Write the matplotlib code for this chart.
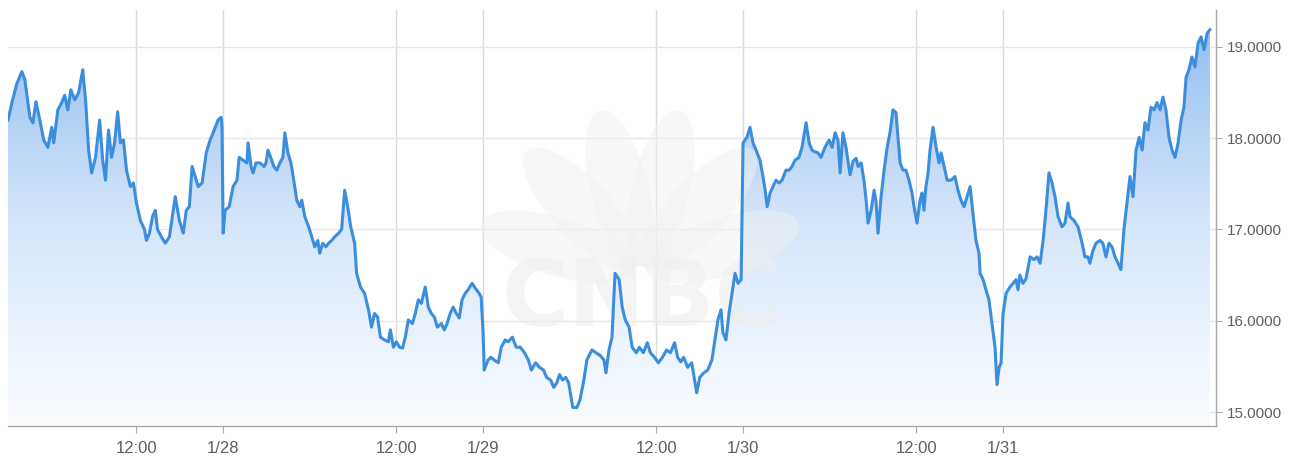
import numpy as np
import matplotlib
matplotlib.use("Agg")
import matplotlib.pyplot as plt
from matplotlib.colors import LinearSegmentedColormap
from matplotlib.patches import Ellipse
from matplotlib.transforms import IdentityTransform

# Session hours since 1/27 04:00 (12-hour sessions, 04:00-16:00 per day)
hours = [
    2.07, 2.25, 2.48, 2.71, 2.85, 3.08, 3.22, 3.36, 3.54, 3.72, 3.91, 4.09, 4.18, 4.37, 4.55,
    4.69, 4.83, 4.97, 5.15, 5.33, 5.52, 5.66, 5.79, 5.93, 6.11, 6.30, 6.44, 6.57, 6.71, 6.85,
    6.99, 7.13, 7.26, 7.40, 7.54, 7.72, 7.86, 8.00, 8.18, 8.37, 8.46, 8.60, 8.74, 8.87, 8.97,
    9.15, 9.33, 9.52, 9.79, 9.98, 10.16, 10.30, 10.44, 10.57, 10.71, 10.85, 11.03, 11.22, 11.40,
    11.59, 11.77, 11.91, 11.95, 12.00, 12.09, 12.28, 12.46, 12.64, 12.74, 12.92, 13.10, 13.15,
    13.29, 13.38, 13.52, 13.70, 13.89, 13.98, 14.07, 14.21, 14.34, 14.48, 14.62, 14.76, 14.85,
    14.99, 15.13, 15.26, 15.40, 15.54, 15.63, 15.77, 15.95, 16.14, 16.23, 16.37, 16.46, 16.60,
    16.74, 16.87, 17.01, 17.15, 17.33, 17.47, 17.61, 17.75, 17.89, 18.07, 18.16, 18.34, 18.53,
    18.71, 18.85, 18.99, 19.13, 19.26, 19.45, 19.63, 19.72, 19.86, 20.00, 20.14, 20.28, 20.41,
    20.55, 20.74, 20.87, 21.01, 21.15, 21.33, 21.47, 21.61, 21.75, 21.89, 22.07, 22.21, 22.34,
    22.48, 22.62, 22.76, 22.90, 23.03, 23.17, 23.31, 23.49, 23.63, 23.82, 23.91, 24.00, 24.05,
    24.23, 24.37, 24.51, 24.70, 24.84, 25.02, 25.16, 25.35, 25.53, 25.72, 25.91, 26.09, 26.23,
    26.42, 26.60, 26.79, 26.93, 27.12, 27.26, 27.40, 27.53, 27.67, 27.81, 27.95, 28.14, 28.33,
    28.47, 28.65, 28.79, 29.02, 29.21, 29.40, 29.58, 29.67, 29.81, 29.95, 30.09, 30.28, 30.42,
    30.56, 30.74, 30.88, 31.07, 31.21, 31.40, 31.58, 31.72, 31.91, 32.09, 32.28, 32.47, 32.65,
    32.84, 32.98, 33.12, 33.26, 33.44, 33.63, 33.86, 34.00, 34.19, 34.37, 34.56, 34.70, 34.84,
    34.98, 35.07, 35.21, 35.35, 35.49, 35.63, 35.77, 35.91, 36.00, 36.18, 36.32, 36.46, 36.60,
    36.78, 36.92, 37.02, 37.11, 37.25, 37.38, 37.52, 37.66, 37.80, 37.98, 38.12, 38.26, 38.40,
    38.58, 38.72, 38.91, 39.05, 39.18, 39.32, 39.46, 39.60, 39.78, 39.97, 40.11, 40.25, 40.38,
    40.48, 40.61, 40.75, 40.94, 41.08, 41.22, 41.31, 41.45, 41.58, 41.68, 41.77, 41.91, 42.05,
    42.14, 42.23, 42.37, 42.51, 42.65, 42.78, 42.92, 43.06, 43.15, 43.25, 43.38, 43.52, 43.66,
    43.80, 43.89, 44.03, 44.17, 44.26, 44.35, 44.44, 44.54, 44.63, 44.77, 44.91, 45.05, 45.14,
    45.28, 45.42, 45.60, 45.78, 45.92, 46.06, 46.20, 46.34, 46.48, 46.61, 46.75, 46.89, 46.94,
    47.08, 47.21, 47.35, 47.49, 47.63, 47.72, 47.82, 47.91, 48.00, 48.14, 48.32, 48.46, 48.60,
    48.69, 48.78, 48.92, 49.06, 49.25, 49.43, 49.57, 49.71, 49.85, 49.98, 50.12, 50.26, 50.40,
    50.54, 50.72, 50.86, 51.00, 51.09, 51.27, 51.46, 51.65, 51.78, 51.92, 52.01, 52.15, 52.29,
    52.47, 52.61, 52.75, 52.89, 53.03, 53.17, 53.31, 53.44, 53.58, 53.72, 53.86, 54.00, 54.14,
    54.28, 54.42, 54.55, 54.69, 54.83, 54.97, 55.11, 55.25, 55.38, 55.52, 55.66, 55.80, 55.94,
    56.08, 56.22, 56.35, 56.45, 56.58, 56.72, 56.86, 57.00, 57.14, 57.28, 57.42, 57.55,
]

prices = [
    18.20, 18.39, 18.60, 18.73, 18.64, 18.23, 18.17, 18.40, 18.20, 17.98, 17.90, 18.12, 17.95, 18.31, 18.39,
    18.47, 18.31, 18.53, 18.42, 18.50, 18.75, 18.39, 17.87, 17.62, 17.79, 18.20, 17.76, 17.54, 18.09, 17.79,
    17.95, 18.29, 17.95, 17.98, 17.65, 17.47, 17.51, 17.29, 17.10, 17.00, 16.88, 16.96, 17.14, 17.21, 17.00,
    16.92, 16.85, 16.92, 17.36, 17.10, 16.96, 17.21, 17.25, 17.69, 17.58, 17.47, 17.51, 17.84, 17.98,
    18.09, 18.20, 18.23, 18.12, 16.96, 17.21, 17.25, 17.47, 17.54, 17.79, 17.76, 17.73, 17.95,
    17.69, 17.62, 17.73, 17.73, 17.69, 17.73, 17.87, 17.78, 17.69, 17.65, 17.73, 17.79, 18.06,
    17.84, 17.73, 17.54, 17.32, 17.25, 17.32, 17.14, 17.03, 16.88, 16.81, 16.88, 16.74, 16.85,
    16.81, 16.85, 16.88, 16.92, 16.96, 17.00, 17.43, 17.25, 17.03, 16.85, 16.52, 16.37, 16.30,
    16.12, 15.93, 16.08, 16.04, 15.82, 15.79, 15.77, 15.90, 15.71, 15.77, 15.71, 15.70, 15.82,
    16.01, 15.97, 16.08, 16.23, 16.19, 16.37, 16.15, 16.08, 16.04, 15.93, 15.97, 15.90, 15.97,
    16.08, 16.15, 16.08, 16.03, 16.23, 16.30, 16.34, 16.41, 16.36, 16.30, 16.26, 15.87, 15.46,
    15.57, 15.60, 15.57, 15.54, 15.71, 15.79, 15.77, 15.82, 15.71, 15.71, 15.65, 15.57, 15.46,
    15.54, 15.49, 15.46, 15.38, 15.35, 15.27, 15.32, 15.41, 15.35, 15.38, 15.32, 15.05, 15.05,
    15.13, 15.35, 15.57, 15.68, 15.65, 15.62, 15.57, 15.43, 15.68, 15.82, 16.52, 16.45, 16.15,
    16.01, 15.93, 15.71, 15.65, 15.71, 15.65, 15.76, 15.65, 15.60, 15.54, 15.60, 15.68, 15.65,
    15.76, 15.60, 15.55, 15.60, 15.49, 15.54, 15.21, 15.38, 15.43, 15.46, 15.57, 15.79, 16.01,
    16.12, 15.87, 15.79, 16.08, 16.30, 16.52, 16.41, 16.45, 17.95, 18.01, 18.12, 17.95, 17.87,
    17.76, 17.58, 17.43, 17.25, 17.40, 17.47, 17.54, 17.51, 17.54, 17.65, 17.65, 17.69, 17.76,
    17.79, 17.90, 18.17, 17.95, 17.87, 17.85, 17.84, 17.79, 17.90, 17.98, 17.90, 18.06, 17.98,
    17.62, 18.06, 17.90, 17.60, 17.75, 17.78, 17.69, 17.73, 17.54, 17.32, 17.07, 17.21, 17.43,
    17.30, 16.96, 17.36, 17.65, 17.90, 18.06, 18.31, 18.28, 18.01, 17.73, 17.65, 17.65, 17.54,
    17.40, 17.25, 17.07, 17.32, 17.40, 17.21, 17.47, 17.62, 17.87, 18.12, 17.90, 17.73, 17.84,
    17.69, 17.54, 17.54, 17.58, 17.43, 17.32, 17.25, 17.36, 17.47, 17.18, 16.88, 16.74, 16.52,
    16.45, 16.34, 16.23, 15.97, 15.71, 15.30, 15.49, 15.54, 16.08, 16.30, 16.37, 16.41, 16.45,
    16.34, 16.50, 16.41, 16.46, 16.70, 16.67, 16.70, 16.63, 16.88, 17.21, 17.62, 17.51, 17.36,
    17.14, 17.03, 17.07, 17.29, 17.14, 17.10, 17.03, 16.85, 16.70, 16.70, 16.63, 16.77, 16.85,
    16.88, 16.85, 16.70, 16.85, 16.81, 16.70, 16.63, 16.56, 17.00, 17.29, 17.58, 17.36, 17.87,
    18.01, 17.87, 18.17, 18.09, 18.34, 18.31, 18.39, 18.31, 18.45, 18.31, 18.01, 17.87, 17.79,
    17.95, 18.20, 18.34, 18.67, 18.75, 18.89, 18.78, 19.04, 19.11, 18.97, 19.15, 19.19,
]

x_tick_hours = [8, 12, 20, 24, 32, 36, 44, 48]
x_tick_labels = ["12:00", "1/28", "12:00", "1/29", "12:00", "1/30", "12:00", "1/31"]
y_ticks = [15, 16, 17, 18, 19]

W, H = 1296, 461
fig = plt.figure(figsize=(W / 100, H / 100), dpi=100)
ax = fig.add_axes([8 / W, 1 - 426 / H, (1216 - 8) / W, (426 - 10) / H])

x0, x1 = 2.07, 57.83
y0, y1 = 14.847, 19.405
ax.set_xlim(x0, x1)
ax.set_ylim(y0, y1)

# gradient fill under the line
poly = ax.fill_between(hours, prices, y0, facecolor="none", edgecolor="none")
grad = np.linspace(1, 0, 256).reshape(-1, 1)
cmap = LinearSegmentedColormap.from_list("g", ["#fbfdff", "#d4e5fa", "#8fbbef"])
im = ax.imshow(grad, cmap=cmap, extent=[x0, x1, y0, y1], aspect="auto",
               origin="upper", zorder=1, interpolation="bilinear")
im.set_clip_path(poly.get_paths()[0], transform=ax.transData)

# faint watermark (peacock feathers + wordmark), overlaid on the fill
base_x, base_y = 640, H - 272
for ang in (163, 133, 104, 76, 47, 17):
    a = np.deg2rad(ang)
    cx = base_x + 86 * np.cos(a)
    cy = base_y + 86 * np.sin(a)
    ax.add_patch(Ellipse((cx, cy), 160, 58, angle=ang, transform=IdentityTransform(),
                         facecolor="#f0f0f0", edgecolor="none", alpha=0.5, zorder=2))
ax.text(642 / W, 1 - 300 / H, "CNBC", fontsize=66, fontweight="bold",
        family="DejaVu Sans", color="#eeeeee", alpha=0.6, ha="center", va="center",
        zorder=2, transform=fig.transFigure)

ax.plot(hours, prices, color="#3b8ede", lw=2.2, zorder=3, solid_joinstyle="round")

# axes styling
ax.set_xticks(x_tick_hours)
ax.set_xticklabels(x_tick_labels)
ax.set_yticks(y_ticks)
ax.set_yticklabels([f"{v:.4f}" for v in y_ticks])
ax.yaxis.tick_right()
ax.xaxis.grid(True, color="#dadada", lw=1.0, zorder=0)
ax.yaxis.grid(True, color="#e6e6e6", lw=1.0, zorder=0)
ax.set_axisbelow(True)
for s in ("left", "top"):
    ax.spines[s].set_visible(False)
for s in ("bottom", "right"):
    ax.spines[s].set_color("#a8a8a8")
    ax.spines[s].set_linewidth(1.0)
ax.tick_params(axis="x", length=5, color="#a8a8a8", labelcolor="#5f5f5f",
               labelsize=12, pad=6)
ax.tick_params(axis="y", length=4, color="#a8a8a8", labelcolor="#5f5f5f",
               labelsize=11, pad=4)
for lab in ax.get_xticklabels() + ax.get_yticklabels():
    lab.set_family("Liberation Sans")

fig.savefig("out.png", dpi=100, facecolor="white")
